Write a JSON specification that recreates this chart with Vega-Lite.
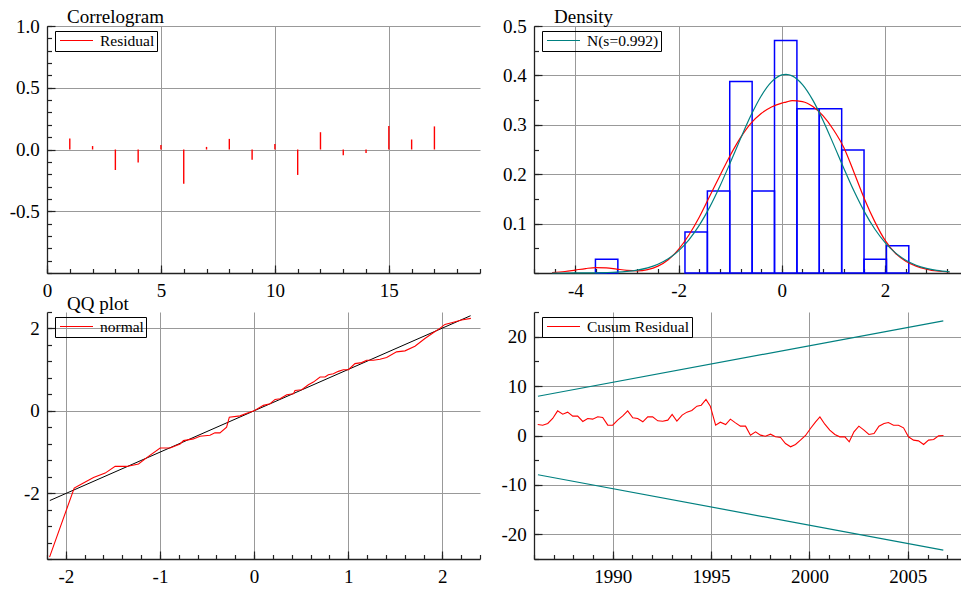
{
  "$schema": "https://vega.github.io/schema/vega-lite/v6.json",
  "background": "white",
  "padding": {"left": 9, "top": 8, "right": 0, "bottom": 0},
  "columns": 2,
  "spacing": {"row": 39, "column": 54},
  "bounds": "flush",
  "resolve": {"scale": {"color": "independent"}},
  "config": {
    "font": "Liberation Serif",
    "view": {"stroke": null},
    "axis": {
      "labelFont": "Liberation Serif", "labelFontSize": 19, "labelColor": "black",
      "domainColor": "#222", "domainWidth": 1.3, "tickColor": "#222", "tickWidth": 1.2,
      "gridColor": "#999", "gridWidth": 1, "labelFlush": false, "labelOverlap": false
    },
    "title": {"font": "Liberation Serif", "fontSize": 19, "fontWeight": "normal", "color": "black", "anchor": "start", "frame": "group", "dx": 20, "offset": -10, "baseline": "bottom"},
    "legend": {"labelFont": "Liberation Serif", "labelFontSize": 15.5, "labelColor": "black"}
  },
  "datasets": {
    "acf": [
      {"lag": 1, "acf": 0.09}, {"lag": 2, "acf": 0.028}, {"lag": 3, "acf": -0.166}, {"lag": 4, "acf": -0.105},
      {"lag": 5, "acf": 0.036}, {"lag": 6, "acf": -0.277}, {"lag": 7, "acf": 0.021}, {"lag": 8, "acf": 0.086},
      {"lag": 9, "acf": -0.083}, {"lag": 10, "acf": 0.044}, {"lag": 11, "acf": -0.206}, {"lag": 12, "acf": 0.14},
      {"lag": 13, "acf": -0.046}, {"lag": 14, "acf": -0.028}, {"lag": 15, "acf": 0.19}, {"lag": 16, "acf": 0.081},
      {"lag": 17, "acf": 0.187}
    ],
    "hist": [
      {"lo": -3.61, "hi": -3.176, "density": 0.0277},
      {"lo": -1.876, "hi": -1.442, "density": 0.0831},
      {"lo": -1.442, "hi": -1.009, "density": 0.1662},
      {"lo": -1.009, "hi": -0.575, "density": 0.3877},
      {"lo": -0.575, "hi": -0.142, "density": 0.1662},
      {"lo": -0.142, "hi": 0.292, "density": 0.4708},
      {"lo": 0.292, "hi": 0.725, "density": 0.3323},
      {"lo": 0.725, "hi": 1.159, "density": 0.3323},
      {"lo": 1.159, "hi": 1.592, "density": 0.2492},
      {"lo": 1.592, "hi": 2.026, "density": 0.0277},
      {"lo": 2.026, "hi": 2.459, "density": 0.0554}
    ],
    "dens": [
      {"x": -4.45, "normal": 0.0, "kde": 0.001},
      {"x": -4.2, "normal": 0.0, "kde": 0.003},
      {"x": -4.0, "normal": 0.0001, "kde": 0.006},
      {"x": -3.8, "normal": 0.0002, "kde": 0.009},
      {"x": -3.6, "normal": 0.0004, "kde": 0.011},
      {"x": -3.4, "normal": 0.0009, "kde": 0.0105},
      {"x": -3.2, "normal": 0.0017, "kde": 0.008},
      {"x": -3.0, "normal": 0.0033, "kde": 0.0055},
      {"x": -2.8, "normal": 0.006, "kde": 0.0045},
      {"x": -2.6, "normal": 0.0105, "kde": 0.007},
      {"x": -2.4, "normal": 0.0178, "kde": 0.014},
      {"x": -2.2, "normal": 0.0289, "kde": 0.027},
      {"x": -2.0, "normal": 0.0449, "kde": 0.048},
      {"x": -1.8, "normal": 0.0672, "kde": 0.077},
      {"x": -1.6, "normal": 0.0963, "kde": 0.113},
      {"x": -1.4, "normal": 0.1328, "kde": 0.155},
      {"x": -1.2, "normal": 0.1756, "kde": 0.197},
      {"x": -1.0, "normal": 0.2231, "kde": 0.238},
      {"x": -0.8, "normal": 0.272, "kde": 0.274},
      {"x": -0.6, "normal": 0.3186, "kde": 0.303},
      {"x": -0.4, "normal": 0.3583, "kde": 0.323},
      {"x": -0.2, "normal": 0.3868, "kde": 0.336},
      {"x": 0.0, "normal": 0.401, "kde": 0.344},
      {"x": 0.08, "normal": 0.4022, "kde": 0.346},
      {"x": 0.2, "normal": 0.3991, "kde": 0.349},
      {"x": 0.4, "normal": 0.3814, "kde": 0.347},
      {"x": 0.6, "normal": 0.35, "kde": 0.337},
      {"x": 0.8, "normal": 0.3084, "kde": 0.318},
      {"x": 1.0, "normal": 0.2609, "kde": 0.29},
      {"x": 1.2, "normal": 0.2119, "kde": 0.254},
      {"x": 1.4, "normal": 0.1653, "kde": 0.203},
      {"x": 1.6, "normal": 0.1238, "kde": 0.15},
      {"x": 1.8, "normal": 0.089, "kde": 0.104},
      {"x": 2.0, "normal": 0.0615, "kde": 0.066},
      {"x": 2.2, "normal": 0.0407, "kde": 0.04},
      {"x": 2.4, "normal": 0.0259, "kde": 0.024},
      {"x": 2.6, "normal": 0.0158, "kde": 0.014},
      {"x": 2.8, "normal": 0.0093, "kde": 0.008},
      {"x": 3.0, "normal": 0.0052, "kde": 0.004},
      {"x": 3.25, "normal": 0.0024, "kde": 0.002}
    ],
    "qq": [
      {"q": -2.173, "r": -3.554}, {"q": -1.911, "r": -1.878}, {"q": -1.847, "r": -1.798}, {"q": -1.706, "r": -1.619},
      {"q": -1.582, "r": -1.513}, {"q": -1.476, "r": -1.351}, {"q": -1.352, "r": -1.351}, {"q": -1.228, "r": -1.293},
      {"q": -1.122, "r": -1.107}, {"q": -0.998, "r": -0.903}, {"q": -0.892, "r": -0.903}, {"q": -0.786, "r": -0.805},
      {"q": -0.75, "r": -0.724}, {"q": -0.645, "r": -0.683}, {"q": -0.575, "r": -0.618}, {"q": -0.469, "r": -0.593},
      {"q": -0.416, "r": -0.536}, {"q": -0.363, "r": -0.536}, {"q": -0.292, "r": -0.398}, {"q": -0.263, "r": -0.155},
      {"q": -0.149, "r": -0.123}, {"q": -0.078, "r": -0.057}, {"q": 0.0, "r": 0.002}, {"q": 0.099, "r": 0.132},
      {"q": 0.17, "r": 0.172}, {"q": 0.223, "r": 0.276}, {"q": 0.276, "r": 0.292}, {"q": 0.347, "r": 0.39},
      {"q": 0.418, "r": 0.414}, {"q": 0.435, "r": 0.495}, {"q": 0.506, "r": 0.511}, {"q": 0.577, "r": 0.633},
      {"q": 0.63, "r": 0.698}, {"q": 0.701, "r": 0.82}, {"q": 0.754, "r": 0.82}, {"q": 0.789, "r": 0.877},
      {"q": 0.842, "r": 0.901}, {"q": 0.895, "r": 0.958}, {"q": 0.948, "r": 0.998}, {"q": 1.002, "r": 0.998},
      {"q": 1.072, "r": 1.146}, {"q": 1.143, "r": 1.171}, {"q": 1.196, "r": 1.228}, {"q": 1.267, "r": 1.228},
      {"q": 1.337, "r": 1.252}, {"q": 1.408, "r": 1.293}, {"q": 1.514, "r": 1.431}, {"q": 1.603, "r": 1.456},
      {"q": 1.709, "r": 1.57}, {"q": 1.815, "r": 1.757}, {"q": 1.903, "r": 1.895}, {"q": 1.974, "r": 2.001},
      {"q": 2.027, "r": 2.099}, {"q": 2.098, "r": 2.139}, {"q": 2.204, "r": 2.204}, {"q": 2.303, "r": 2.245}
    ],
    "qqline": [{"q": -2.17, "r": -2.18}, {"q": 2.3, "r": 2.31}],
    "cusum": [
      {"t": 1986.19, "v": 2.22}, {"t": 1986.44, "v": 2.09}, {"t": 1986.7, "v": 2.43}, {"t": 1986.95, "v": 3.44},
      {"t": 1987.2, "v": 4.99}, {"t": 1987.46, "v": 4.32}, {"t": 1987.71, "v": 4.73}, {"t": 1987.97, "v": 3.92},
      {"t": 1988.22, "v": 3.92}, {"t": 1988.48, "v": 2.84}, {"t": 1988.73, "v": 3.44}, {"t": 1988.98, "v": 3.31},
      {"t": 1989.24, "v": 3.78}, {"t": 1989.49, "v": 3.65}, {"t": 1989.75, "v": 2.09}, {"t": 1990.0, "v": 2.09},
      {"t": 1990.25, "v": 3.11}, {"t": 1990.51, "v": 3.98}, {"t": 1990.76, "v": 4.99}, {"t": 1991.02, "v": 3.58},
      {"t": 1991.27, "v": 3.44}, {"t": 1991.53, "v": 2.77}, {"t": 1991.78, "v": 3.78}, {"t": 1992.03, "v": 3.78},
      {"t": 1992.29, "v": 2.97}, {"t": 1992.54, "v": 2.9}, {"t": 1992.8, "v": 3.11}, {"t": 1993.02, "v": 4.25},
      {"t": 1993.26, "v": 2.9}, {"t": 1993.53, "v": 4.12}, {"t": 1993.77, "v": 4.73}, {"t": 1994.02, "v": 5.06},
      {"t": 1994.28, "v": 5.94}, {"t": 1994.5, "v": 6.14}, {"t": 1994.74, "v": 7.29}, {"t": 1994.96, "v": 5.94},
      {"t": 1995.23, "v": 2.09}, {"t": 1995.47, "v": 2.7}, {"t": 1995.74, "v": 2.22}, {"t": 1995.98, "v": 3.31},
      {"t": 1996.24, "v": 2.56}, {"t": 1996.49, "v": 1.89}, {"t": 1996.75, "v": 1.89}, {"t": 1997.0, "v": 0.07},
      {"t": 1997.26, "v": 0.74}, {"t": 1997.51, "v": 0.07}, {"t": 1997.76, "v": -0.14}, {"t": 1998.02, "v": 0.27},
      {"t": 1998.27, "v": -0.27}, {"t": 1998.53, "v": -0.4}, {"t": 1998.78, "v": -1.62}, {"t": 1999.04, "v": -2.29},
      {"t": 1999.29, "v": -1.82}, {"t": 1999.54, "v": -0.94}, {"t": 1999.8, "v": 0.0}, {"t": 2000.05, "v": 1.41},
      {"t": 2000.31, "v": 2.77}, {"t": 2000.53, "v": 3.78}, {"t": 2000.78, "v": 2.29}, {"t": 2001.03, "v": 1.08},
      {"t": 2001.29, "v": 0.2}, {"t": 2001.54, "v": -0.27}, {"t": 2001.8, "v": -0.27}, {"t": 2002.02, "v": -1.28},
      {"t": 2002.26, "v": 0.74}, {"t": 2002.51, "v": 1.89}, {"t": 2002.77, "v": 1.08}, {"t": 2003.02, "v": 0.2},
      {"t": 2003.28, "v": 0.4}, {"t": 2003.53, "v": 1.89}, {"t": 2003.79, "v": 2.43}, {"t": 2004.01, "v": 2.63},
      {"t": 2004.27, "v": 2.09}, {"t": 2004.52, "v": 2.09}, {"t": 2004.78, "v": 1.55}, {"t": 2005.03, "v": -0.27},
      {"t": 2005.29, "v": -0.94}, {"t": 2005.54, "v": -1.08}, {"t": 2005.8, "v": -1.82}, {"t": 2006.05, "v": -0.94},
      {"t": 2006.31, "v": -0.81}, {"t": 2006.56, "v": -0.07}, {"t": 2006.81, "v": 0.0}
    ],
    "bounds": [
      {"t": 1986.2, "b": 7.95, "side": "upper"}, {"t": 2006.8, "b": 23.2, "side": "upper"},
      {"t": 1986.2, "b": -7.95, "side": "lower"}, {"t": 2006.8, "b": -23.2, "side": "lower"}
    ]
  },
  "concat": [
    {
      "width": 433, "height": 247,
      "title": {"text": "Correlogram"},
      "layer": [
        {
          "data": {"name": "acf"},
          "mark": {"type": "rule", "strokeWidth": 1.4},
          "encoding": {
            "x": {"field": "lag", "type": "quantitative", "scale": {"domain": [0, 19], "nice": false, "zero": false},
              "axis": {"orient": "bottom", "title": null, "values": [0, 5, 10, 15], "grid": true, "tickSize": -8, "labelPadding": 16, "labelExpr": "'' + datum.value"}},
            "y": {"field": "acf", "type": "quantitative", "scale": {"domain": [-1, 1], "nice": false, "zero": false},
              "axis": {"orient": "left", "title": null, "values": [-0.5, 0, 0.5, 1.0], "grid": true, "tickSize": -8, "labelPadding": 15.7, "labelExpr": "datum.value < 0 ? '-' + format(-datum.value, '.1f') : format(datum.value, '.1f')"}},
            "y2": {"datum": 0},
            "color": {"datum": "Residual", "type": "nominal", "scale": {"range": ["#ff0000"]},
              "legend": {"title": null, "orient": "none", "legendX": 8, "legendY": 5, "strokeColor": "black", "padding": 2, "symbolType": "stroke", "symbolSize": 1089, "symbolStrokeWidth": 1.2, "clipHeight": 15, "symbolOffset": 2, "labelOffset": 6,
                "encode": {"symbols": {"update": {"stroke": {"value": "#ff0000"}, "strokeWidth": {"value": 1.2}}}}}}
          }
        },
        {
          "data": {"name": "acf"},
          "mark": {"type": "point", "opacity": 0},
          "encoding": {
            "x": {"field": "lag", "type": "quantitative", "axis": {"orient": "bottom", "title": null, "values": [0,1,2,3,4,5,6,7,8,9,10,11,12,13,14,15,16,17,18,19], "labels": false, "domain": false, "grid": false, "tickSize": -4.5}},
            "y": {"field": "acf", "type": "quantitative", "axis": {"orient": "left", "title": null, "values": [-1,-0.9,-0.8,-0.7,-0.6,-0.5,-0.4,-0.3,-0.2,-0.1,0,0.1,0.2,0.3,0.4,0.5,0.6,0.7,0.8,0.9,1], "labels": false, "domain": false, "grid": false, "tickSize": -4.5}}
          }
        }
      ],
      "resolve": {"axis": {"x": "independent", "y": "independent"}}
    },
    {
      "width": 427, "height": 247,
      "title": {"text": "Density"},
      "layer": [
        {
          "layer": [
            {
              "data": {"name": "hist"},
              "mark": {"type": "rect", "fill": "transparent", "stroke": "#0000ff", "strokeWidth": 1.5},
              "encoding": {
                "x": {"field": "lo", "type": "quantitative", "scale": {"domain": [-4.8, 3.47], "nice": false, "zero": false},
                  "axis": {"orient": "bottom", "title": null, "values": [-4, -2, 0, 2], "grid": true, "tickSize": -8, "labelPadding": 16, "labelExpr": "datum.value < 0 ? '-' + (-datum.value) : '' + datum.value"}},
                "x2": {"field": "hi"},
                "y": {"field": "density", "type": "quantitative", "scale": {"domain": [0, 0.5], "nice": false, "zero": false},
                  "axis": {"orient": "left", "title": null, "values": [0.1, 0.2, 0.3, 0.4, 0.5], "grid": true, "tickSize": -8, "labelPadding": 15.7, "labelExpr": "format(datum.value, '.1f')"}},
                "y2": {"datum": 0}
              }
            },
            {
              "data": {"name": "dens"},
              "mark": {"type": "line", "color": "#ff0000", "strokeWidth": 1.2, "interpolate": "monotone"},
              "encoding": {
                "x": {"field": "x", "type": "quantitative"},
                "y": {"field": "kde", "type": "quantitative"}
              }
            },
            {
              "data": {"name": "dens"},
              "mark": {"type": "line", "strokeWidth": 1.2, "interpolate": "monotone"},
              "encoding": {
                "x": {"field": "x", "type": "quantitative"},
                "y": {"field": "normal", "type": "quantitative"},
                "color": {"datum": "N(s=0.992)", "type": "nominal", "scale": {"range": ["#008080"]},
                  "legend": {"title": null, "orient": "none", "legendX": 8, "legendY": 5, "strokeColor": "black", "padding": 2, "symbolType": "stroke", "symbolSize": 1089, "symbolStrokeWidth": 1.2, "clipHeight": 15, "symbolOffset": 2, "labelOffset": 6,
                    "encode": {"symbols": {"update": {"stroke": {"value": "#008080"}, "strokeWidth": {"value": 1.2}}}}}}
              }
            }
          ]
        },
        {
          "data": {"name": "dens"},
          "mark": {"type": "point", "opacity": 0},
          "encoding": {
            "x": {"field": "x", "type": "quantitative", "axis": {"orient": "bottom", "title": null, "values": [-4.8,-4.4,-4.0,-3.6,-3.2,-2.8,-2.4,-2.0,-1.6,-1.2,-0.8,-0.4,0,0.4,0.8,1.2,1.6,2.0,2.4,2.8,3.2], "labels": false, "domain": false, "grid": false, "tickSize": -4.5}},
            "y": {"field": "kde", "type": "quantitative", "axis": {"orient": "left", "title": null, "values": [0,0.05,0.1,0.15,0.2,0.25,0.3,0.35,0.4,0.45,0.5], "labels": false, "domain": false, "grid": false, "tickSize": -4.5}}
          }
        }
      ],
      "resolve": {"axis": {"x": "independent", "y": "independent"}}
    },
    {
      "width": 433, "height": 247,
      "title": {"text": "QQ plot", "offset": -3},
      "layer": [
        {
          "layer": [
            {
              "data": {"name": "qqline"},
              "mark": {"type": "line", "color": "black", "strokeWidth": 1},
              "encoding": {
                "x": {"field": "q", "type": "quantitative", "scale": {"domain": [-2.2, 2.4], "nice": false, "zero": false},
                  "axis": {"orient": "bottom", "title": null, "values": [-2, -1, 0, 1, 2], "grid": true, "tickSize": -8, "labelPadding": 16, "labelExpr": "datum.value < 0 ? '-' + (-datum.value) : '' + datum.value"}},
                "y": {"field": "r", "type": "quantitative", "scale": {"domain": [-3.6, 2.4], "nice": false, "zero": false},
                  "axis": {"orient": "left", "title": null, "values": [-2, 0, 2], "grid": true, "tickSize": -8, "labelPadding": 15.7, "labelExpr": "datum.value < 0 ? '-' + (-datum.value) : '' + datum.value"}}
              }
            },
            {
              "data": {"name": "qq"},
              "mark": {"type": "line", "strokeWidth": 1.1},
              "encoding": {
                "x": {"field": "q", "type": "quantitative"},
                "y": {"field": "r", "type": "quantitative"},
                "color": {"datum": "normal", "type": "nominal", "scale": {"range": ["#ff0000"]},
                  "legend": {"title": null, "orient": "none", "legendX": 8, "legendY": 5, "strokeColor": "black", "padding": 2, "symbolType": "stroke", "symbolSize": 1089, "symbolStrokeWidth": 1.2, "clipHeight": 15, "symbolOffset": 2, "labelOffset": 6,
                    "encode": {"symbols": {"update": {"stroke": {"value": "#ff0000"}, "strokeWidth": {"value": 1.2}}}}}}
              }
            }
          ]
        },
        {
          "data": {"name": "qq"},
          "mark": {"type": "point", "opacity": 0},
          "encoding": {
            "x": {"field": "q", "type": "quantitative", "axis": {"orient": "bottom", "title": null, "values": [-2.2,-2.0,-1.8,-1.6,-1.4,-1.2,-1.0,-0.8,-0.6,-0.4,-0.2,0,0.2,0.4,0.6,0.8,1.0,1.2,1.4,1.6,1.8,2.0,2.2,2.4], "labels": false, "domain": false, "grid": false, "tickSize": -4.5}},
            "y": {"field": "r", "type": "quantitative", "axis": {"orient": "left", "title": null, "values": [-3.6,-3.2,-2.8,-2.4,-2.0,-1.6,-1.2,-0.8,-0.4,0,0.4,0.8,1.2,1.6,2.0,2.4], "labels": false, "domain": false, "grid": false, "tickSize": -4.5}}
          }
        }
      ],
      "resolve": {"axis": {"x": "independent", "y": "independent"}}
    },
    {
      "width": 427, "height": 247,
      "layer": [
        {
          "layer": [
            {
              "data": {"name": "bounds"},
              "mark": {"type": "line", "color": "#008080", "strokeWidth": 1.2},
              "encoding": {
                "x": {"field": "t", "type": "quantitative", "scale": {"domain": [1986, 2007.7], "nice": false, "zero": false},
                  "axis": {"orient": "bottom", "title": null, "values": [1990, 1995, 2000, 2005], "grid": true, "tickSize": -8, "labelPadding": 16, "labelExpr": "'' + datum.value"}},
                "y": {"field": "b", "type": "quantitative", "scale": {"domain": [-25, 25], "nice": false, "zero": false},
                  "axis": {"orient": "left", "title": null, "values": [-20, -10, 0, 10, 20], "grid": true, "tickSize": -8, "labelPadding": 15.7, "labelExpr": "datum.value < 0 ? '-' + (-datum.value) : '' + datum.value"}},
                "detail": {"field": "side", "type": "nominal"}
              }
            },
            {
              "data": {"name": "cusum"},
              "mark": {"type": "line", "strokeWidth": 1.1},
              "encoding": {
                "x": {"field": "t", "type": "quantitative"},
                "y": {"field": "v", "type": "quantitative"},
                "color": {"datum": "Cusum Residual", "type": "nominal", "scale": {"range": ["#ff0000"]},
                  "legend": {"title": null, "orient": "none", "legendX": 8, "legendY": 5, "strokeColor": "black", "padding": 2, "symbolType": "stroke", "symbolSize": 1089, "symbolStrokeWidth": 1.2, "clipHeight": 15, "symbolOffset": 2, "labelOffset": 6,
                    "encode": {"symbols": {"update": {"stroke": {"value": "#ff0000"}, "strokeWidth": {"value": 1.2}}}}}}
              }
            }
          ]
        },
        {
          "data": {"name": "cusum"},
          "mark": {"type": "point", "opacity": 0},
          "encoding": {
            "x": {"field": "t", "type": "quantitative", "axis": {"orient": "bottom", "title": null, "values": [1986,1987,1988,1989,1990,1991,1992,1993,1994,1995,1996,1997,1998,1999,2000,2001,2002,2003,2004,2005,2006,2007], "labels": false, "domain": false, "grid": false, "tickSize": -4.5}},
            "y": {"field": "v", "type": "quantitative", "axis": {"orient": "left", "title": null, "values": [-25,-20,-15,-10,-5,0,5,10,15,20,25], "labels": false, "domain": false, "grid": false, "tickSize": -4.5}}
          }
        }
      ],
      "resolve": {"axis": {"x": "independent", "y": "independent"}}
    }
  ]
}
